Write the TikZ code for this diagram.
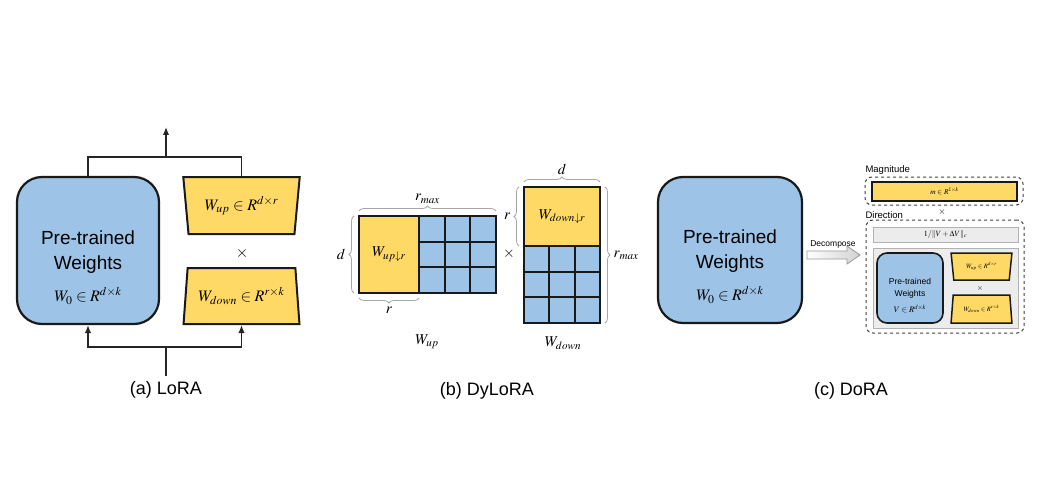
\documentclass[tikz,border=0pt]{standalone}
\usepackage{mathptmx}
\usepackage[no-math]{fontspec}
\setmainfont{Liberation Sans}
\usetikzlibrary{shapes.geometric,arrows.meta,decorations.pathreplacing}
\definecolor{wblue}{RGB}{157,195,230}
\definecolor{wyellow}{RGB}{255,217,102}
\definecolor{pgray}{RGB}{236,236,236}
\begin{document}
\begin{tikzpicture}[x=1pt,y=-1pt,
        bigbox/.style={draw=black!90,line width=2.2pt,fill=wblue,rounded corners=25pt,inner sep=0pt},
        smallbox/.style={draw=black!90,line width=1.6pt,fill=wblue,rounded corners=10pt,inner sep=0pt},
        trap/.style={trapezium,trapezium stretches=true,trapezium left angle=79,trapezium right angle=79,
            draw=black!90,line width=2pt,fill=wyellow,inner sep=0pt},
        widetop/.style={trapezium left angle=101,trapezium right angle=101},
        ybox/.style={draw=black!90,line width=2.5pt,fill=wyellow,inner sep=0pt,outer sep=0pt},
        cell/.style={draw=black!90,line width=2pt,fill=wblue,inner sep=0pt,outer sep=0pt},
        mat/.style={draw=black!90,line width=2.5pt},
        link/.style={draw=black!85,line width=1.5pt},
        arr/.style={-{Latex[length=8pt,width=6.5pt]}},
        brc/.style={decorate,decoration={brace,amplitude=5pt},draw=gray!70,line width=0.8pt},
        dashbox/.style={draw=gray!50!black,dashed,line width=1pt,rounded corners=7pt,inner sep=0pt},
        graybar/.style={draw=gray!60,line width=0.8pt,fill=pgray,inner sep=0pt},
        bigtxt/.style={font=\fontsize{19}{25}\selectfont,align=center},
        captxt/.style={font=\fontsize{18}{22}\selectfont},
        mtxt/.style={font=\fontsize{16}{19}\selectfont},
        dtxt/.style={font=\fontsize{15}{18}\selectfont},
        stxt/.style={font=\fontsize{8.5}{12}\selectfont,align=center},
        ttxt/.style={font=\fontsize{6.5}{7}\selectfont},
        ltxt/.style={font=\fontsize{9.5}{11}\selectfont}]
    \useasboundingbox (0,0) rectangle (1049,500);

    % (a) LoRA
    \node[bigbox,minimum width=142pt,minimum height=147pt] (pt1) at (88,250.5) {};
    \node[bigtxt] (t1) at (88,252.5) {Pre-trained\\Weights};
    \node[mtxt] (w1) at (88,296) {$W_0\in R^{d\times k}$};
    \node[trap,widetop,mtxt,minimum width=117pt,minimum height=57pt] (up1) at (241.5,205.5) {$W_{up}\in R^{d\times r}$};
    \node[mtxt] (x1) at (242,253) {$\times$};
    \node[trap,mtxt,minimum width=117pt,minimum height=56pt] (down1) at (241.5,296) {$W_{down}\in R^{r\times k}$};
    \coordinate (top1) at (166,157);
    \coordinate (out1) at (166,127);
    \coordinate (bot1) at (166,347);
    \coordinate (in1) at (166,376);
    \draw[link] (pt1.north) |- (top1) -| (up1.north);
    \draw[link,arr] (top1) -- (out1);
    \draw[link] (in1) -- (bot1);
    \draw[link,arr] (bot1) -| (pt1.south);
    \draw[link,arr] (bot1) -| (down1.south);
    \node[captxt] (cap1) at (166,390) {(a) LoRA};

    % (b) DyLoRA
    \node[ybox,dtxt,minimum width=60pt,minimum height=77pt] (wup) at (389,254.5) {$W_{up\downarrow r}$};
    \foreach \i in {0,1,2}{
        \foreach \j in {0,1,2}{
            \node[cell,minimum width=25.67pt,minimum height=25.67pt] (u\i\j) at ({431.83+25.67*\i},{228.83+25.67*\j}) {};
        }
    }
    \draw[mat] (wup.north west) rectangle (u22.south east);
    \draw[brc] (359,211) -- (496,211) node[midway,above=4pt,dtxt] (rm1) {$r_{max}$};
    \draw[brc] (354,293) -- (354,216) node[midway,left=5pt,dtxt] (d1) {$d$};
    \draw[brc] (419,298) -- (359,298) node[midway,below=5pt,dtxt] (r1) {$r$};
    \node[dtxt] (x2) at (509,254) {$\times$};
    \node[ybox,dtxt,minimum width=76pt,minimum height=59pt] (wdn) at (562,216.5) {$W_{down\downarrow r}$};
    \foreach \i in {0,1,2}{
        \foreach \j in {0,1,2}{
            \node[cell,minimum width=25.33pt,minimum height=25.67pt] (d\i\j) at ({536.67+25.33*\i},{258.83+25.67*\j}) {};
        }
    }
    \draw[mat] (wdn.north west) rectangle (d22.south east);
    \draw[brc] (524,182) -- (600,182) node[midway,above=4pt,dtxt] (d2) {$d$};
    \draw[brc] (519,246) -- (519,187) node[midway,left=5pt,dtxt] (r2) {$r$};
    \draw[brc] (605,187) -- (605,323) node[midway,right=5pt,dtxt] (rm2) {$r_{max}$};
    \node[dtxt] (lup) at (427,342) {$W_{up}$};
    \node[dtxt] (ldn) at (563,343) {$W_{down}$};
    \node[captxt] (cap2) at (487,391) {(b) DyLoRA};

    % (c) DoRA
    \node[bigbox,minimum width=144pt,minimum height=146pt] (pt3) at (730,250) {};
    \node[bigtxt] (t3) at (730,251) {Pre-trained\\Weights};
    \node[mtxt] (w3) at (730,295) {$W_0\in R^{d\times k}$};
    \node[ltxt,font=\fontsize{8.5}{10}\selectfont] (dec) at (833,244) {Decompose};
    \draw[gray!80,line width=0.8pt,left color=white,right color=gray!35]
        (807,251) -- (847,251) -- (847,246) -- (860,255) -- (847,264) -- (847,259) -- (807,259) -- cycle;
    \node[ltxt,anchor=west] (lmag) at (862,170) {Magnitude};
    \node[dashbox,minimum width=158pt,minimum height=28pt] (mag) at (944,191) {};
    \node[ybox,line width=2pt,font=\fontsize{7.5}{8}\selectfont,minimum width=145pt,minimum height=19pt] (mbar) at (944.5,191.5) {$m\in R^{1\times k}$};
    \node[ltxt] (x3) at (942,212) {$\times$};
    \node[ltxt,anchor=west] (ldir) at (862,215) {Direction};
    \node[dashbox,minimum width=158pt,minimum height=113pt] (dir) at (945,276.5) {};
    \node[graybar,font=\fontsize{8}{9}\selectfont,minimum width=145pt,minimum height=15pt] (nbar) at (945.5,234.5) {$1/\|V+\Delta V\|_c$};
    \node[graybar,minimum width=145pt,minimum height=80pt] (gpan) at (945.5,288) {};
    \node[smallbox,minimum width=66pt,minimum height=70pt] (pt4) at (910,288) {};
    \node[stxt] (t4) at (910,288) {Pre-trained\\Weights};
    \node[stxt] (v4) at (910,309) {$V\in R^{d\times k}$};
    \node[trap,widetop,line width=1.5pt,ttxt,minimum width=61pt,minimum height=27pt] (up4) at (981.5,266.5) {$W_{up}\in R^{d\times r}$};
    \node[ttxt,font=\fontsize{8}{9}\selectfont] (x4) at (980,288) {$\times$};
    \node[trap,line width=1.5pt,ttxt,minimum width=61pt,minimum height=28pt] (down4) at (981.5,309) {$W_{down}\in R^{r\times k}$};
    \node[captxt] (cap3) at (851,391) {(c) DoRA};
\end{tikzpicture}
\end{document}
